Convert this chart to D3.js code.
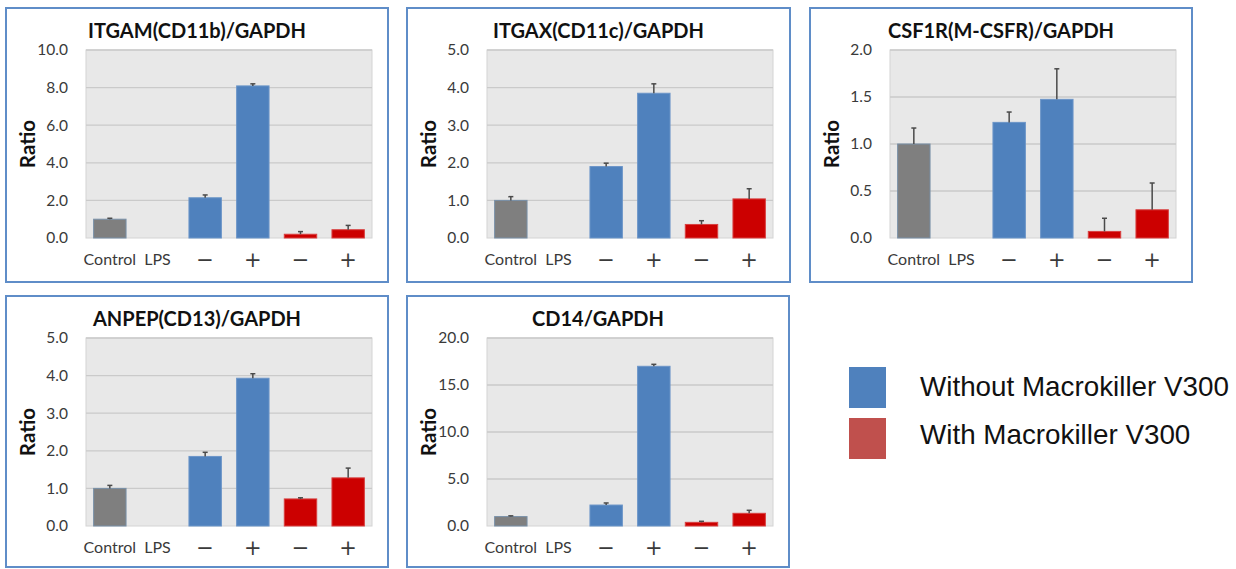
<!DOCTYPE html>
<html><head><meta charset="utf-8">
<script src="https://cdn.jsdelivr.net/npm/d3@7"></script>
<style>
html,body{margin:0;padding:0;background:#fff;}
svg{display:block;}
</style></head>
<body>
<svg id="chart" width="1236" height="569"></svg>
<script>
// ---------- data ----------
const categories = ["Control", "LPS", "\u2212", "+", "\u2212", "+"];
const titles = ["ITGAM(CD11b)/GAPDH", "ITGAX(CD11c)/GAPDH", "CSF1R(M-CSFR)/GAPDH", "ANPEP(CD13)/GAPDH", "CD14/GAPDH"];
const yMaxes = [10, 5, 2, 5, 20];
const tickSteps = [2, 1, 0.5, 1, 5];
const itgamValues = [1.0, null, 2.14, 8.09, 0.20, 0.44];
const itgamErrors = [0.05, null, 0.15, 0.11, 0.14, 0.23];
const itgaxValues = [1.0, null, 1.90, 3.85, 0.36, 1.04];
const itgaxErrors = [0.10, null, 0.09, 0.25, 0.10, 0.27];
const csf1rValues = [1.0, null, 1.23, 1.475, 0.07, 0.30];
const csf1rErrors = [0.17, null, 0.11, 0.325, 0.14, 0.285];
const anpepValues = [1.0, null, 1.85, 3.93, 0.72, 1.28];
const anpepErrors = [0.08, null, 0.11, 0.12, 0.03, 0.26];
const cd14Values = [1.0, null, 2.23, 16.99, 0.39, 1.35];
const cd14Errors = [0.08, null, 0.22, 0.21, 0.11, 0.32];
const groups = ["control", "none", "without", "without", "with", "with"];
const legendLabels = ["Without Macrokiller V300", "With Macrokiller V300"];

const panelValues = [itgamValues, itgaxValues, csf1rValues, anpepValues, cd14Values];
const panelErrors = [itgamErrors, itgaxErrors, csf1rErrors, anpepErrors, cd14Errors];

// ---------- style / layout ----------
const barColor = {control: "#7F7F7F", without: "#4F81BD", with: "#CC0000", none: "none"};
const barStroke = {control: "#7890A8", without: "#6B95C8", with: "#D84040", none: "none"};
const legendColors = ["#4F81BD", "#C0504D"];
const boxes = [
  {x: 6, y: 8, w: 382, h: 274},
  {x: 407, y: 8, w: 383, h: 274},
  {x: 810, y: 8, w: 382, h: 274},
  {x: 6, y: 296, w: 382, h: 271},
  {x: 407, y: 296, w: 382, h: 271}
];
const plotDX = 80, plotDY = 42, plotW = 286, plotH = 188;
const font = "Lato, 'Open Sans', sans-serif";
const signFont = "'DejaVu Sans', sans-serif";

const svg = d3.select("#chart");

titles.forEach((title, i) => {
  const b = boxes[i];
  const g = svg.append("g");
  g.append("rect").attr("x", b.x).attr("y", b.y).attr("width", b.w).attr("height", b.h)
    .attr("fill", "#fff").attr("stroke", "#5F8DC8").attr("stroke-width", 2);

  const px = b.x + plotDX, py = b.y + plotDY;
  const x = d3.scaleBand().domain(d3.range(categories.length)).range([px, px + plotW])
    .paddingInner(0.32).paddingOuter(0.16);
  const y = d3.scaleLinear().domain([0, yMaxes[i]]).range([py + plotH, py]);
  const ticks = d3.range(0, yMaxes[i] + tickSteps[i] / 2, tickSteps[i]);

  g.append("rect").attr("x", px).attr("y", py).attr("width", plotW).attr("height", plotH)
    .attr("fill", "#E8E8E8").attr("stroke", "#D4D4D4").attr("stroke-width", 1);

  // gridlines
  g.append("g").selectAll("line").data(ticks.slice(1)).join("line")
    .attr("x1", px).attr("x2", px + plotW)
    .attr("y1", d => y(d)).attr("y2", d => y(d))
    .attr("stroke", "#CACACA").attr("stroke-width", 1.3);

  // y axis
  const yAxis = g.append("g").attr("transform", `translate(${px - 6},0)`)
    .call(d3.axisLeft(y).tickValues(ticks).tickFormat(d3.format(".1f")).tickSize(0).tickPadding(12));
  yAxis.select(".domain").remove();
  yAxis.selectAll("text").attr("font-family", font).attr("font-size", 15.5).attr("fill", "#3A3A3A");

  // x axis labels
  const xAxis = g.append("g").attr("transform", `translate(0,${py + plotH})`)
    .call(d3.axisBottom(x).tickFormat(j => categories[j]).tickSize(0).tickPadding(0));
  xAxis.select(".domain").remove();
  xAxis.selectAll("text").attr("fill", "#3A3A3A")
    .attr("font-family", j => j < 2 ? font : signFont)
    .attr("y", 0)
    .attr("font-size", j => j < 2 ? 16 : 21)
    .attr("dy", j => j < 2 ? 27 : 29);

  // bars
  const idx = d3.range(categories.length).filter(j => panelValues[i][j] != null);
  g.append("g").selectAll("rect").data(idx).join("rect")
    .attr("x", j => x(j)).attr("width", x.bandwidth())
    .attr("y", j => y(panelValues[i][j]))
    .attr("height", j => y(0) - y(panelValues[i][j]))
    .attr("fill", j => barColor[groups[j]])
    .attr("stroke", j => barStroke[groups[j]]).attr("stroke-width", 1);

  // error bars (upper)
  const eg = g.append("g").attr("stroke", "#4A4A4A").attr("stroke-width", 1.5);
  eg.selectAll("line.v").data(idx).join("line").attr("class", "v")
    .attr("x1", j => x(j) + x.bandwidth() / 2).attr("x2", j => x(j) + x.bandwidth() / 2)
    .attr("y1", j => y(panelValues[i][j])).attr("y2", j => y(panelValues[i][j] + panelErrors[i][j]));
  eg.selectAll("line.c").data(idx).join("line").attr("class", "c")
    .attr("x1", j => x(j) + x.bandwidth() / 2 - 2.5).attr("x2", j => x(j) + x.bandwidth() / 2 + 2.5)
    .attr("y1", j => y(panelValues[i][j] + panelErrors[i][j])).attr("y2", j => y(panelValues[i][j] + panelErrors[i][j]));

  // title
  g.append("text").attr("x", b.x + b.w / 2).attr("y", b.y + 30).attr("text-anchor", "middle")
    .attr("font-family", font).attr("font-weight", "bold").attr("font-size", 20).attr("fill", "#111")
    .text(title);

  // y label
  g.append("text").attr("transform", `translate(${b.x + 29},${py + plotH / 2}) rotate(-90)`)
    .attr("text-anchor", "middle").attr("font-family", font).attr("font-weight", "bold")
    .attr("font-size", 20.5).attr("fill", "#111").text("Ratio");
});

// legend
const lg = svg.append("g");
legendLabels.forEach((lab, k) => {
  lg.append("rect").attr("x", 849).attr("y", 367 + k * 51).attr("width", 37).attr("height", 41)
    .attr("fill", legendColors[k]);
  lg.append("text").attr("x", 920).attr("y", 396 + k * 48)
    .attr("font-family", "'Liberation Sans', Arial, sans-serif").attr("font-size", 27.8).attr("fill", "#111")
    .text(lab);
});
</script>
</body></html>
